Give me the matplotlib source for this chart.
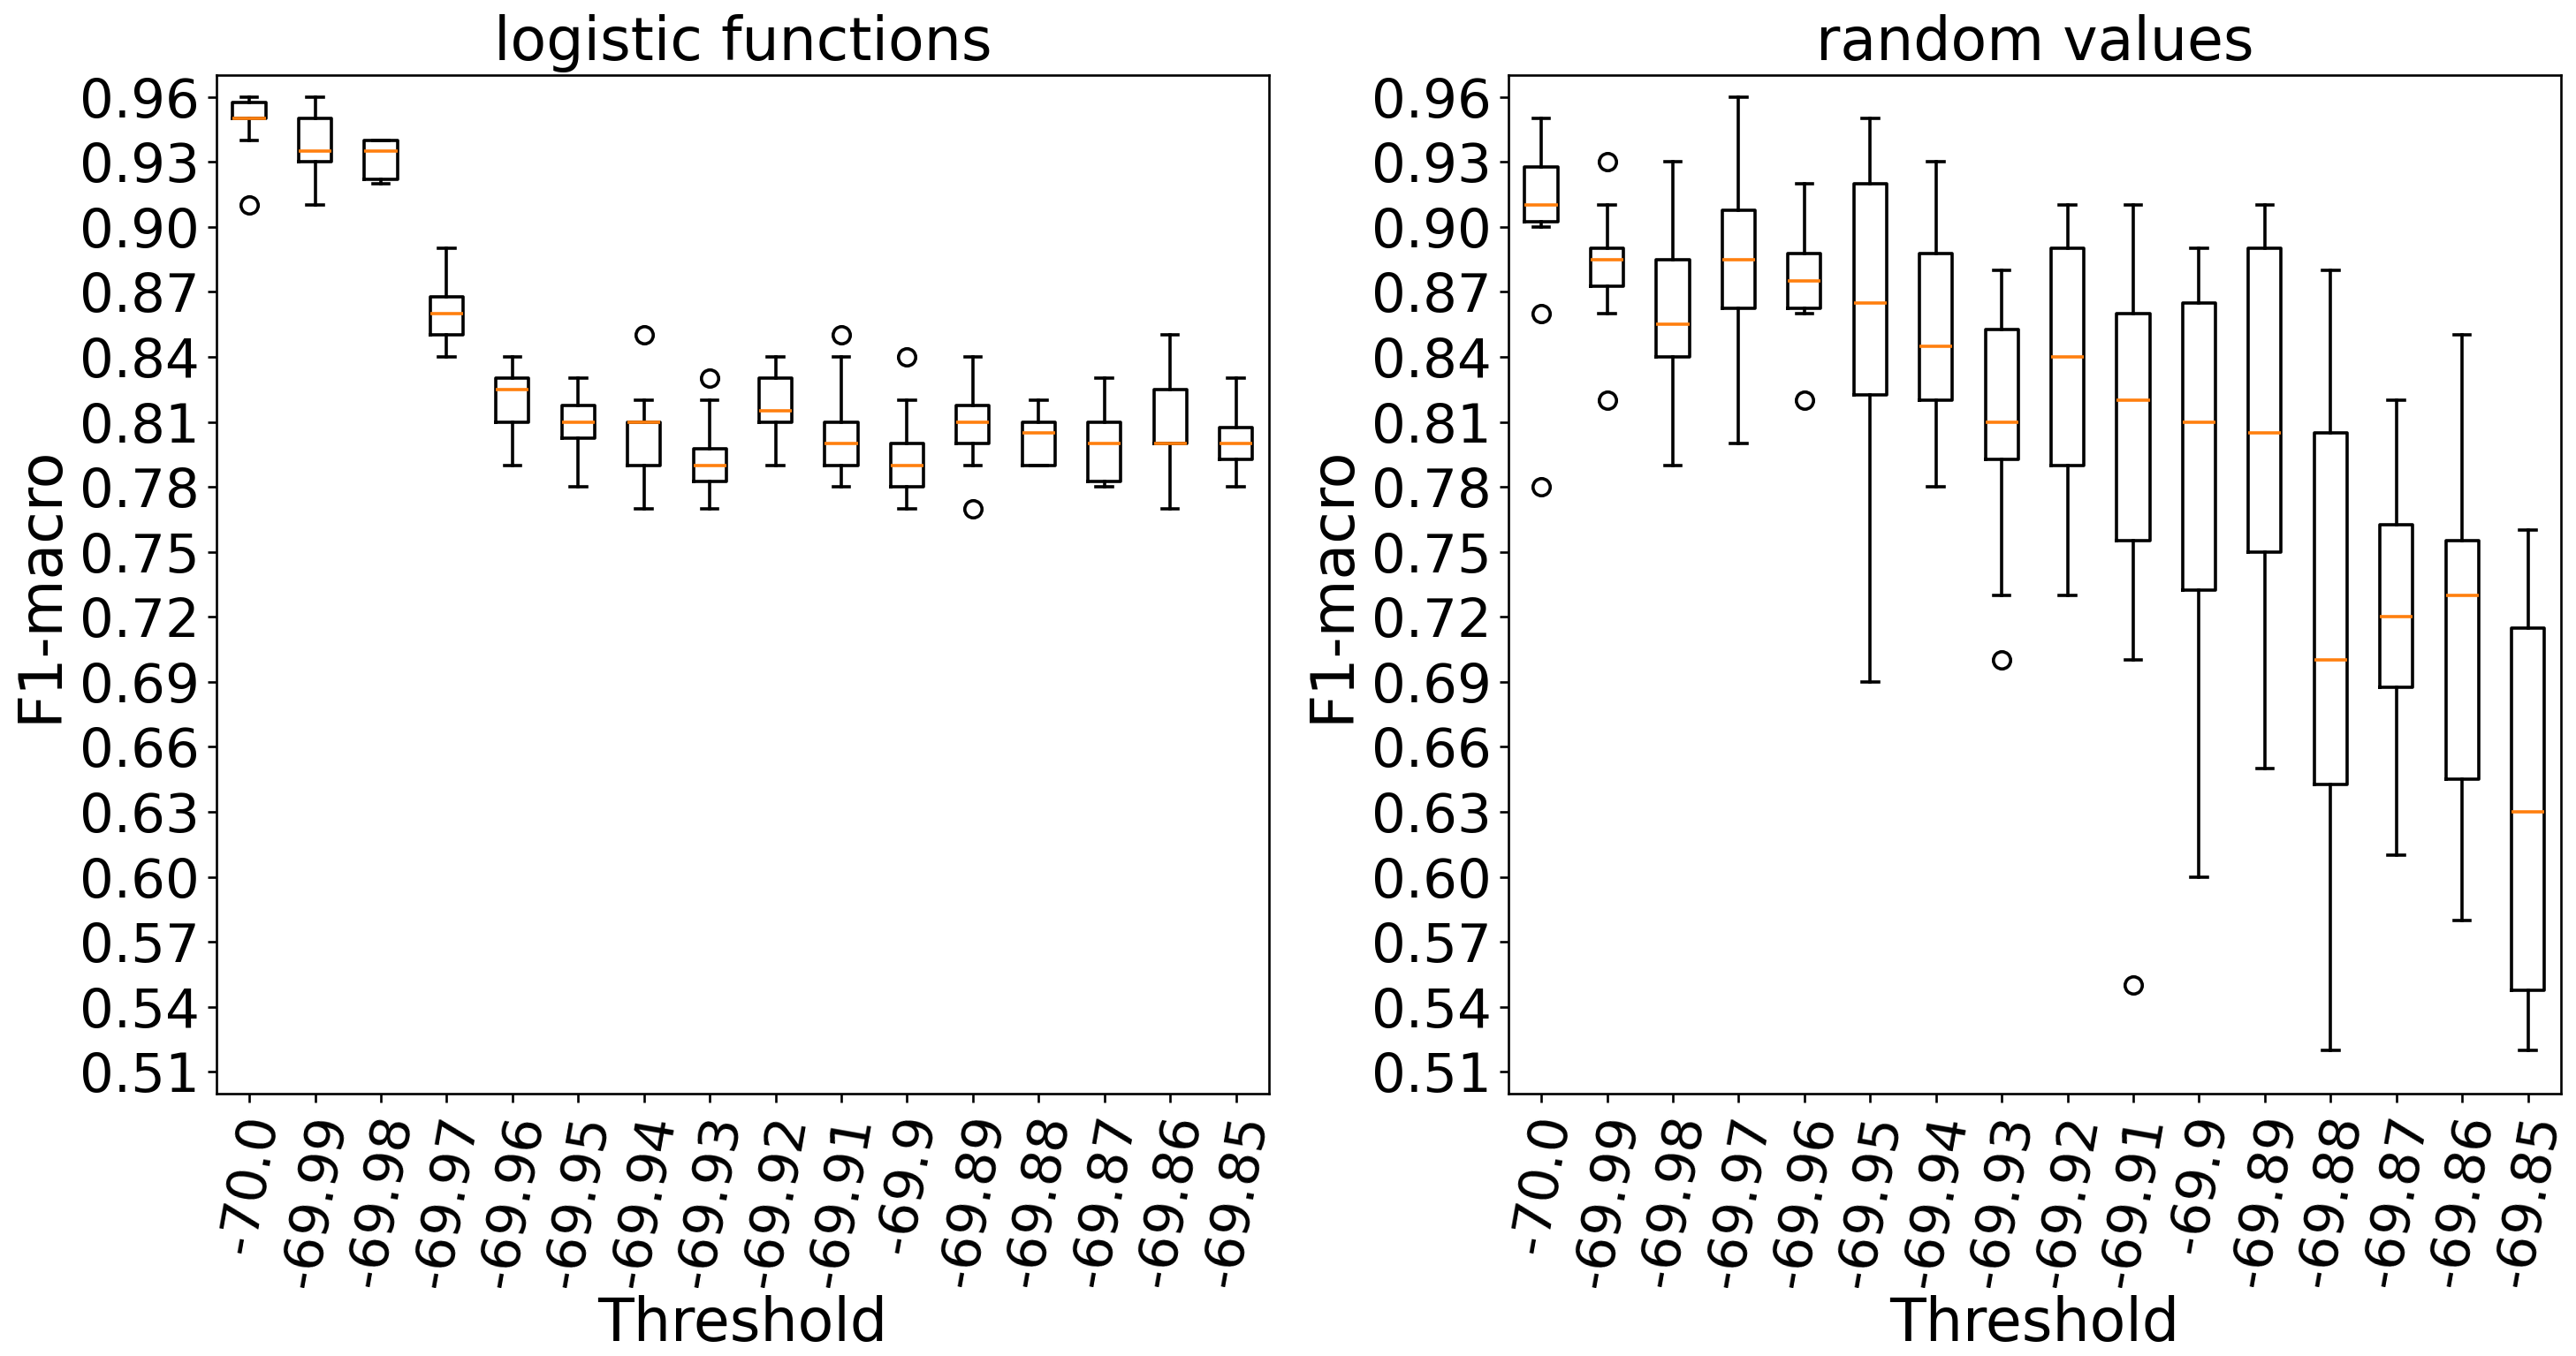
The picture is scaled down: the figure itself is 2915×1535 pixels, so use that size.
import numpy as np
import matplotlib
matplotlib.use("Agg")
import matplotlib.pyplot as plt

thresholds = ["-70.0", "-69.99", "-69.98", "-69.97", "-69.96", "-69.95", "-69.94", "-69.93",
              "-69.92", "-69.91", "-69.9", "-69.89", "-69.88", "-69.87", "-69.86", "-69.85"]

# logistic functions: box statistics
log_whislo = [0.94, 0.91, 0.92, 0.84, 0.79, 0.78, 0.77, 0.77, 0.79, 0.78, 0.77, 0.79, 0.79, 0.78, 0.77, 0.78]
log_q1 = [0.95, 0.93, 0.922, 0.85, 0.81, 0.8025, 0.79, 0.7825, 0.81, 0.79, 0.78, 0.80, 0.79, 0.7825, 0.80, 0.7925]
log_med = [0.95, 0.935, 0.935, 0.86, 0.825, 0.81, 0.81, 0.79, 0.815, 0.80, 0.79, 0.81, 0.805, 0.80, 0.80, 0.80]
log_q3 = [0.9575, 0.95, 0.94, 0.8675, 0.83, 0.8175, 0.81, 0.7975, 0.83, 0.81, 0.80, 0.8175, 0.81, 0.81, 0.825, 0.8075]
log_whishi = [0.96, 0.96, 0.94, 0.89, 0.84, 0.83, 0.82, 0.82, 0.84, 0.84, 0.82, 0.84, 0.82, 0.83, 0.85, 0.83]
log_fliers = [[0.91], [], [], [], [], [], [0.85], [0.83], [], [0.85], [0.84], [0.77], [], [], [], []]

# random values
rnd_whislo = [0.90, 0.86, 0.79, 0.80, 0.86, 0.69, 0.78, 0.73, 0.73, 0.70, 0.60, 0.65, 0.52, 0.61, 0.58, 0.52]
rnd_q1 = [0.9025, 0.8725, 0.84, 0.8625, 0.8625, 0.8225, 0.82, 0.7925, 0.79, 0.755, 0.7325, 0.75, 0.6425, 0.6875, 0.645, 0.5475]
rnd_med = [0.91, 0.885, 0.855, 0.885, 0.875, 0.865, 0.845, 0.81, 0.84, 0.82, 0.81, 0.805, 0.70, 0.72, 0.73, 0.63]
rnd_q3 = [0.9275, 0.89, 0.885, 0.9075, 0.8875, 0.92, 0.8875, 0.8525, 0.89, 0.86, 0.865, 0.89, 0.805, 0.7625, 0.755, 0.715]
rnd_whishi = [0.95, 0.91, 0.93, 0.96, 0.92, 0.95, 0.93, 0.88, 0.91, 0.91, 0.89, 0.91, 0.88, 0.82, 0.85, 0.76]
rnd_fliers = [[0.86, 0.78], [0.93, 0.82], [], [], [0.82], [], [], [0.70], [], [0.55], [], [], [], [], [], []]


def make_stats(whislo, q1, med, q3, whishi, fliers):
    return [dict(whislo=a, q1=b, med=c, q3=d, whishi=e, fliers=f)
            for a, b, c, d, e, f in zip(whislo, q1, med, q3, whishi, fliers)]


panels = [
    ("logistic functions", make_stats(log_whislo, log_q1, log_med, log_q3, log_whishi, log_fliers)),
    ("random values", make_stats(rnd_whislo, rnd_q1, rnd_med, rnd_q3, rnd_whishi, rnd_fliers)),
]

lw = 1.3
fig, axes = plt.subplots(1, 2, figsize=(14.575, 7.675), dpi=200)
for ax, (title, stats) in zip(axes, panels):
    ax.bxp(stats, widths=0.5,
           boxprops=dict(linewidth=lw),
           whiskerprops=dict(linewidth=lw),
           capprops=dict(linewidth=lw),
           medianprops=dict(linewidth=lw, color='C1'),
           flierprops=dict(marker='o', markersize=7, markeredgewidth=lw,
                           markerfacecolor='none', markeredgecolor='k'))
    ax.set_xticks(np.arange(1, len(thresholds) + 1))
    ax.set_xticklabels(thresholds, rotation=80)
    ax.set_ylim(0.50, 0.97)
    ax.set_yticks(np.arange(0.51, 0.97, 0.03))
    ax.yaxis.set_major_formatter(plt.FormatStrFormatter('%.2f'))
    ax.tick_params(labelsize=22, width=0.95)
    for s in ax.spines.values():
        s.set_linewidth(0.95)
    ax.set_title(title, fontsize=24)
    ax.set_xlabel('Threshold', fontsize=24, labelpad=1.5)
    ax.set_ylabel('F1-macro', fontsize=24)

plt.subplots_adjust(left=0.084, right=0.9941, top=0.9446, bottom=0.1935, wspace=0.2276)
plt.savefig('out.png')
